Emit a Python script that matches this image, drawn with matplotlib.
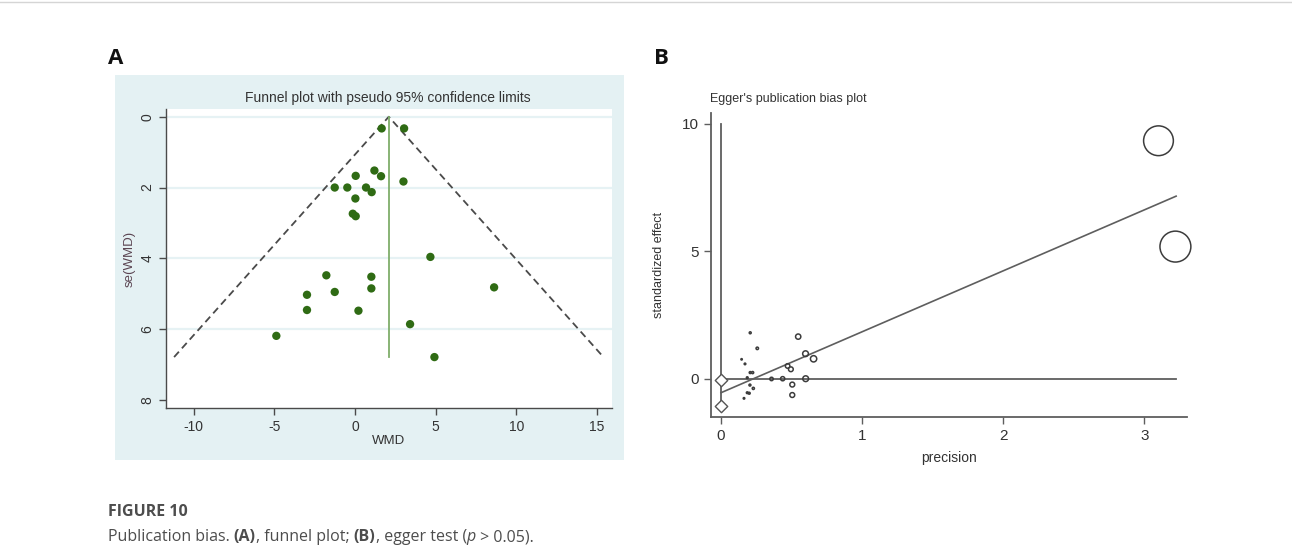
import matplotlib
matplotlib.use("Agg")
import matplotlib.pyplot as plt
from matplotlib.patches import Rectangle
from matplotlib.lines import Line2D
import numpy as np

plt.rcParams["axes.unicode_minus"] = False

# ---------- datos ----------
# panel A: funnel plot
wmd = [1.65, 3.04, 1.20, 1.61, 0.04, 3.00, -1.26, -0.48, 0.68, 1.03, 0.02, -0.14, 0.04,
       4.67, -1.78, 1.01, 1.01, 8.62, -2.98, -1.26, -2.98, 0.21, 3.41, -4.88, 4.92]
se_wmd = [0.33, 0.33, 1.52, 1.68, 1.67, 1.83, 2.00, 2.00, 2.00, 2.13, 2.31, 2.74, 2.81,
          3.96, 4.48, 4.52, 4.85, 4.82, 5.03, 4.95, 5.46, 5.48, 5.86, 6.19, 6.79]
pooled_wmd = 2.09
se_max = 6.79
a_xticks = [-10, -5, 0, 5, 10, 15]
a_yticks = [0, 2, 4, 6, 8]

# panel B: Egger
precision = [0.207, 0.257, 0.146, 0.170, 0.207, 0.224, 0.186, 0.205, 0.229, 0.186, 0.200, 0.163,
             0.358, 0.437, 0.472, 0.495, 0.505, 0.505, 0.547, 0.599, 0.656, 0.600, 3.10, 3.22]
std_effect = [1.80, 1.19, 0.76, 0.58, 0.24, 0.24, 0.04, -0.25, -0.38, -0.55, -0.57, -0.77,
              -0.01, 0.00, 0.50, 0.37, -0.23, -0.64, 1.65, 0.98, 0.78, 0.00, 9.33, 5.18]
egger_intercept = -0.55
egger_slope = 2.39
egger_xmax = 3.225
intercept_ci = [-1.06, -0.05]
b_xticks = [0, 1, 2, 3]
b_yticks = [0, 5, 10]

W, H = 1292, 556
fig = plt.figure(figsize=(W / 100, H / 100), dpi=100)
fig.patch.set_facecolor("white")


def frac(x0, y0, x1, y1):
    # caja en pixeles -> fraccion de figura
    return [x0 / W, 1 - y1 / H, (x1 - x0) / W, (y1 - y0) / H]


stata = ["Liberation Sans", "DejaVu Sans"]

# linea superior
fig.add_artist(Line2D([0, 1], [1 - 2 / H, 1 - 2 / H], color="#d5d5d5", lw=1))

# ---------- panel A ----------
fig.add_artist(Rectangle((115 / W, 1 - 460 / H), (624 - 115) / W, (460 - 75) / H,
                         transform=fig.transFigure, facecolor="#e4f1f3", edgecolor="none", zorder=0))
axA = fig.add_axes(frac(166, 109.3, 611.7, 407.7))
axA.set_facecolor("white")
axA.set_xlim(-11.72, 15.91)
axA.set_ylim(8.22, -0.21)
for y in a_yticks[:-1]:
    axA.axhline(y, color="#e6f2f4", lw=1.6, zorder=0)
axA.plot([pooled_wmd - 1.96 * se_max, pooled_wmd, pooled_wmd + 1.96 * se_max],
         [se_max, 0, se_max], ls=(0, (4, 2.5)), color="#4a4a4a", lw=1.3, zorder=2)
axA.plot([pooled_wmd, pooled_wmd], [0, se_max], color="#7fae6a", lw=1.3, zorder=2)
axA.scatter(wmd, se_wmd, s=36, color="#2f6b14", edgecolors="none", zorder=3)
for side in ["top", "right"]:
    axA.spines[side].set_visible(False)
for side in ["left", "bottom"]:
    axA.spines[side].set_color("#4a4a4a")
    axA.spines[side].set_linewidth(1.0)
axA.set_xticks(a_xticks)
axA.set_yticks(a_yticks)
axA.tick_params(colors="#4a4a4a", length=5, width=1.0, labelsize=10)
for lab in axA.get_xticklabels() + axA.get_yticklabels():
    lab.set_family(stata)
    lab.set_color("#333333")
for lab in axA.get_yticklabels():
    lab.set_rotation(90)
    lab.set_va("center")
axA.set_xlabel("WMD", family=stata, fontsize=9.5, color="#333333", labelpad=1)
axA.set_ylabel("se(WMD)", family=stata, fontsize=9.5, color="#5b4552", labelpad=3)
fig.text(388 / W, 1 - 98 / H, "Funnel plot with pseudo 95% confidence limits",
         family=stata, fontsize=10, color="#333333", ha="center", va="center")

# ---------- panel B ----------
axB = fig.add_axes(frac(710.7, 112.7, 1186.7, 416.7))
axB.set_xlim(-0.073, 3.30)
axB.set_ylim(-1.49, 10.43)
gray = "#5e5e5e"
axB.plot([0, 0], [intercept_ci[0], 10], color=gray, lw=1.3, zorder=1)
axB.plot([0, egger_xmax], [0, 0], color=gray, lw=1.3, zorder=1)
xs = np.array([0, egger_xmax])
axB.plot(xs, egger_intercept + egger_slope * xs, color=gray, lw=1.2, zorder=1)
prec = np.array(precision)
sizes = (2 * 4.8 * prec * 0.72) ** 2
axB.scatter(precision, std_effect, s=sizes, facecolors="none", edgecolors="#3c3c3c",
            linewidths=1.1, zorder=3, clip_on=False)
axB.scatter([0, 0], intercept_ci, marker="D", s=40, facecolors="white",
            edgecolors="#555555", linewidths=1.0, zorder=4, clip_on=False)
for side in ["top", "right"]:
    axB.spines[side].set_visible(False)
for side in ["left", "bottom"]:
    axB.spines[side].set_color(gray)
    axB.spines[side].set_linewidth(1.3)
axB.set_xticks(b_xticks)
axB.set_yticks(b_yticks)
axB.tick_params(colors=gray, length=5, width=1.0, labelsize=11)
for lab in axB.get_xticklabels() + axB.get_yticklabels():
    lab.set_family(stata)
    lab.set_color("#333333")
axB.set_xlabel("precision", family=stata, fontsize=10, color="#333333", labelpad=6)
axB.set_ylabel("standardized effect", family=stata, fontsize=9, color="#333333", labelpad=12)
fig.text(710 / W, 1 - 99 / H, "Egger's publication bias plot", family=stata,
         fontsize=9, color="#333333", ha="left", va="center")

# ---------- etiquetas y pie ----------
fig.text(108 / W, 1 - 58 / H, "A", fontsize=16, weight="bold", family=["Open Sans", "DejaVu Sans"],
         ha="left", va="center", color="#111111")
fig.text(654 / W, 1 - 58 / H, "B", fontsize=16, weight="bold", family=["Open Sans", "DejaVu Sans"],
         ha="left", va="center", color="#111111")
cap = ["Open Sans", "DejaVu Sans"]
fig.text(108 / W, 1 - 512 / H, "FIGURE 10", fontsize=11.5, weight="bold", family=cap,
         color="#4d4d4d", ha="left", va="center")

# pie de figura por trozos (negrita / cursiva), todos sobre la misma linea base
pieces = [("Publication bias. ", "normal", "normal"), ("(A)", "bold", "normal"),
          (", funnel plot; ", "normal", "normal"), ("(B)", "bold", "normal"),
          (", egger test (", "normal", "normal"), ("p", "normal", "italic"),
          (" > 0.05).", "normal", "normal")]
renderer = fig.canvas.get_renderer()
x_px = 108
for txt, wt, st in pieces:
    t = fig.text(x_px / W, 1 - 541 / H, txt, fontsize=11.5, family=cap, weight=wt, style=st,
                 color="#4d4d4d", ha="left", va="baseline")
    x_px += t.get_window_extent(renderer).width

fig.savefig("out.png", dpi=100)
plt.close(fig)
